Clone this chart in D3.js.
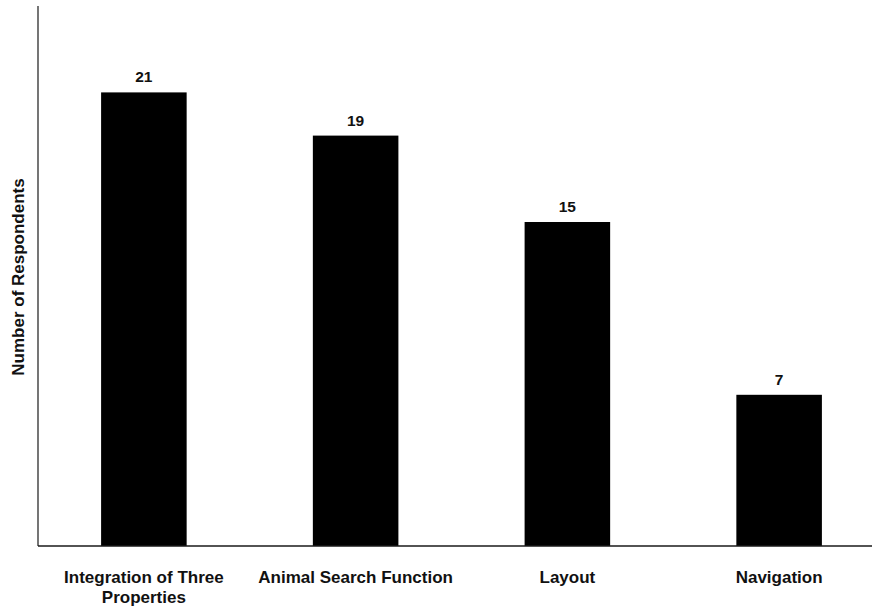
<!DOCTYPE html>
<html>
<head>
<meta charset="utf-8">
<script src="https://cdn.jsdelivr.net/npm/d3@7"></script>
<style>
  html, body { margin: 0; padding: 0; background: #fff; }
  svg { display: block; font-family: "Liberation Sans", Arial, sans-serif; }
</style>
</head>
<body>
<svg id="chart" width="872" height="612"></svg>
<script>
// Feature preferences of survey respondents
const categories = [
  ["Integration of Three", "Properties"],
  ["Animal Search Function"],
  ["Layout"],
  ["Navigation"]
];
const respondents = [21, 19, 15, 7];
const yTitle = "Number of Respondents";

const svg = d3.select("#chart");
const plotLeft = 38, plotTop = 6, plotBottom = 546, plotRight = 885;

const keys = categories.map(c => c.join(" "));
const x = d3.scaleBand()
  .domain(keys)
  .range([plotLeft, plotRight])
  .paddingInner(0.596)
  .paddingOuter(0.298);

const y = d3.scaleLinear().domain([0, 25]).range([plotBottom, plotTop]);

// bars
svg.append("g").selectAll("rect")
  .data(respondents)
  .join("rect")
  .attr("x", (d, i) => x(keys[i]))
  .attr("y", d => y(d))
  .attr("width", x.bandwidth())
  .attr("height", d => y(0) - y(d))
  .attr("fill", "#000");

// value labels
svg.append("g").selectAll("text")
  .data(respondents)
  .join("text")
  .attr("x", (d, i) => x(keys[i]) + x.bandwidth() / 2)
  .attr("y", d => y(d) - 10)
  .attr("text-anchor", "middle")
  .attr("font-size", "15.5px")
  .attr("font-weight", "bold")
  .attr("fill", "#111")
  .text(d => d);

// axis lines
svg.append("line")
  .attr("x1", plotLeft).attr("x2", 872)
  .attr("y1", y(0)).attr("y2", y(0))
  .attr("stroke", "#1a1a1a").attr("stroke-width", 1.4);
svg.append("line")
  .attr("x1", plotLeft).attr("x2", plotLeft)
  .attr("y1", y(25)).attr("y2", y(0))
  .attr("stroke", "#1a1a1a").attr("stroke-width", 1.2);

// category labels, wrapped over lines
const catG = svg.append("g");
categories.forEach((lines, i) => {
  const t = catG.append("text")
    .attr("x", x(keys[i]) + x.bandwidth() / 2)
    .attr("y", 583)
    .attr("text-anchor", "middle")
    .attr("font-size", "17px")
    .attr("font-weight", "bold")
    .attr("fill", "#111");
  lines.forEach((ln, j) => {
    t.append("tspan")
      .attr("x", x(keys[i]) + x.bandwidth() / 2)
      .attr("dy", j === 0 ? 0 : 20)
      .text(ln);
  });
});

// y-axis title
svg.append("text")
  .attr("transform", `translate(24,${(plotTop + plotBottom) / 2 + 1}) rotate(-90)`)
  .attr("text-anchor", "middle")
  .attr("font-size", "17px")
  .attr("font-weight", "bold")
  .attr("fill", "#111")
  .text(yTitle);
</script>
</body>
</html>
